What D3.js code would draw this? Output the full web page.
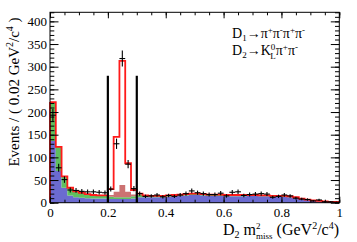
<meta charset="utf-8">
<script src="https://d3js.org/d3.v7.min.js"></script>
<body style="margin:0">
<div id="chart"></div>
<style>
text { font-family: "Liberation Serif", "Times New Roman", serif; }
</style>
<script>
var width = 357, height = 242

// 50 bins of 0.02 from 0 to 1
var binEdges = d3.range(0, 1.0001, 0.02)
var dataVals = [193, 77, 51, 28, 27, 25, 24, 24, 23, 22,
                30, 130, 318, 85, 31, 20, 14, 15, 17, 13,
                16, 14, 17, 20, 26, 22, 20, 18, 18, 21,
                15, 23, 24, 16, 18, 19, 20, 19, 12, 14,
                17, 15, 10, 8, 7, 4, 6, 2, 2, 1]
var totalVals = [222, 123, 58, 33, 25, 22, 19, 17, 16, 16,
                 30, 145, 313, 87, 28, 20, 16, 15, 15, 15,
                 16, 17, 18, 19, 20, 20, 19, 18, 18, 18,
                 17, 17, 17, 17, 17, 17, 16, 16, 15, 15,
                 15, 14, 12, 9, 7, 5, 4, 3, 2, 2]
var blueVals = [136, 70, 33, 16, 12, 11, 10, 9, 9, 9,
                8, 8, 8, 8, 9, 12, 12, 12, 12, 12,
                13, 14, 15, 16, 17, 17, 16, 15, 15, 15,
                14, 14, 14, 14, 15, 15, 14, 14, 13, 13,
                13, 12, 10, 8, 6, 4, 3, 2, 2, 1]
var greenVals = [84, 53, 25, 17, 13, 11, 9, 8, 7, 7,
                 5, 4, 4, 4, 5, 5, 4, 3, 3, 3,
                 3, 3, 3, 3, 3, 3, 3, 3, 3, 3,
                 3, 3, 3, 3, 2, 2, 2, 2, 2, 2,
                 2, 2, 2, 1, 1, 1, 1, 1, 0, 1]
var pinkVals = [0, 0, 0, 0, 0, 0, 0, 0, 0, 0,
                4, 12, 27, 12, 4, 0, 0, 0, 0, 0,
                0, 0, 0, 0, 0, 0, 0, 0, 0, 0,
                0, 0, 0, 0, 0, 0, 0, 0, 0, 0,
                0, 0, 0, 0, 0, 0, 0, 0, 0, 0]
var cutLines = [0.2, 0.3]
var cutHeight = 280
var xTicks = [0, 0.2, 0.4, 0.6, 0.8, 1]
var yTicks = [0, 50, 100, 150, 200, 250, 300, 350, 400]

var svg = d3.select("#chart").append("svg")
    .attr("width", width).attr("height", height)

var x = d3.scaleLinear().domain([0, 1]).range([50, 339.3])
var y = d3.scaleLinear().domain([0, 420]).range([202.7, 12.3])

// stacked layers
var rows = blueVals.map(function(b, i) {
  return {x0: binEdges[i], blue: b, green: greenVals[i], pink: pinkVals[i], total: totalVals[i]}
})
rows.push(Object.assign({}, rows[rows.length - 1], {x0: 1}))

var stack = d3.stack().keys(["blue", "green", "pink"])(rows)
var colors = {blue: "#6b6bd0", green: "#5fc05f", pink: "#cc7272"}

var area = d3.area()
  .curve(d3.curveStepAfter)
  .x(function(d) { return x(d.data.x0) })
  .y0(function(d) { return y(d[0]) })
  .y1(function(d) { return y(d[1]) })

svg.append("g").selectAll("path")
  .data(stack)
  .enter().append("path")
    .attr("d", area)
    .attr("fill", function(d) { return colors[d.key] })

// total outline
var line = d3.line()
  .curve(d3.curveStepAfter)
  .x(function(d) { return x(d.x0) })
  .y(function(d) { return y(d.total) })
svg.append("path")
  .attr("d", line(rows))
  .attr("fill", "none")
  .attr("stroke", "#ff1a1a")
  .attr("stroke-width", 1.8)
svg.append("line")
  .attr("x1", x(0)).attr("x2", x(0))
  .attr("y1", y(0)).attr("y2", y(totalVals[0]))
  .attr("stroke", "#ff1a1a").attr("stroke-width", 1.8)

// cut lines
svg.selectAll(".cut")
  .data(cutLines)
  .enter().append("line")
    .attr("x1", function(d) { return x(d) })
    .attr("x2", function(d) { return x(d) })
    .attr("y1", y(0)).attr("y2", y(cutHeight))
    .attr("stroke", "black").attr("stroke-width", 2.2)

// data points
var pts = svg.append("g").selectAll("g")
  .data(dataVals.map(function(v, i) { return {xc: binEdges[i] + 0.01, v: v} }))
  .enter().append("g")
    .attr("stroke", "black").attr("stroke-width", 1.1)
pts.append("line")
  .attr("x1", function(d) { return x(d.xc - 0.01) })
  .attr("x2", function(d) { return x(d.xc + 0.01) })
  .attr("y1", function(d) { return y(d.v) })
  .attr("y2", function(d) { return y(d.v) })
pts.append("line")
  .attr("x1", function(d) { return x(d.xc) })
  .attr("x2", function(d) { return x(d.xc) })
  .attr("y1", function(d) { return y(d.v + Math.sqrt(d.v)) })
  .attr("y2", function(d) { return y(Math.max(0, d.v - Math.sqrt(d.v))) })

// frame
svg.append("rect")
  .attr("x", x(0)).attr("y", y(420))
  .attr("width", x(1) - x(0)).attr("height", y(0) - y(420))
  .attr("fill", "none").attr("stroke", "black").attr("stroke-width", 1)

// axes with inward ticks
function ticks(axis, vals, size, labels) {
  return axis.tickValues(vals).tickSize(-size).tickPadding(3)
    .tickFormat(labels ? d3.format("") : "")
}
var xMinor = d3.range(0, 1.0001, 0.05)
var yMinor = d3.range(0, 421, 10)

var gx = svg.append("g").attr("transform", "translate(0," + y(0) + ")")
gx.call(ticks(d3.axisBottom(x), xTicks, 6, true))
gx.append("g").call(ticks(d3.axisBottom(x), xMinor, 3, false))
var gxt = svg.append("g").attr("transform", "translate(0," + y(420) + ")")
gxt.call(ticks(d3.axisTop(x), xTicks, 6, false))
gxt.append("g").call(ticks(d3.axisTop(x), xMinor, 3, false))

var gy = svg.append("g").attr("transform", "translate(" + x(0) + ",0)")
gy.call(ticks(d3.axisLeft(y), yTicks, 8.5, true))
gy.append("g").call(ticks(d3.axisLeft(y), yMinor, 4.3, false))
var gyr = svg.append("g").attr("transform", "translate(" + x(1) + ",0)")
gyr.call(ticks(d3.axisRight(y), yTicks, 8.5, false))
gyr.append("g").call(ticks(d3.axisRight(y), yMinor, 4.3, false))

svg.selectAll(".domain").remove()
svg.selectAll(".tick line").attr("stroke", "black")
svg.selectAll(".tick text")
  .attr("font-size", 13)
  .attr("fill", "black")
gx.selectAll(".tick text").attr("dy", "0.71em").attr("y", 5)
gy.selectAll(".tick text").attr("x", -3)

// axis titles
svg.append("text")
  .attr("transform", "translate(19,92) rotate(-90)")
  .attr("text-anchor", "middle")
  .attr("font-size", 15)
  .html('Events / ( 0.02 GeV<tspan dy="-6" font-size="10">2</tspan><tspan dy="6">/c</tspan><tspan dy="-6" font-size="10">4</tspan><tspan dy="6"> )</tspan>')

svg.append("text")
  .attr("x", 339).attr("y", 235)
  .attr("text-anchor", "end")
  .attr("font-size", 16)
  .html('D<tspan dy="3" font-size="10">2</tspan><tspan dy="-3"> m</tspan><tspan dy="-6" font-size="9">2</tspan><tspan dy="10" dx="-4.5" font-size="9">miss</tspan><tspan dy="-4"> (GeV</tspan><tspan dy="-6" font-size="10">2</tspan><tspan dy="6">/c</tspan><tspan dy="-6" font-size="10">4</tspan><tspan dy="6">)</tspan>')

// legend text
svg.append("text")
  .attr("x", 232).attr("y", 38)
  .attr("font-size", 14)
  .html('D<tspan dy="3" font-size="9">1</tspan><tspan dy="-3">→π</tspan><tspan dy="-5" font-size="9">+</tspan><tspan dy="5">π</tspan><tspan dy="-5" font-size="9">-</tspan><tspan dy="5">π</tspan><tspan dy="-5" font-size="9">+</tspan><tspan dy="5">π</tspan><tspan dy="-5" font-size="9">-</tspan>')
svg.append("text")
  .attr("x", 232).attr("y", 55)
  .attr("font-size", 14)
  .html('D<tspan dy="3" font-size="9">2</tspan><tspan dy="-3">→K</tspan><tspan dy="-5" font-size="9">0</tspan><tspan dy="9" dx="-5" font-size="9">L</tspan><tspan dy="-4">π</tspan><tspan dy="-5" font-size="9">+</tspan><tspan dy="5">π</tspan><tspan dy="-5" font-size="9">-</tspan>')
</script>
</body>
